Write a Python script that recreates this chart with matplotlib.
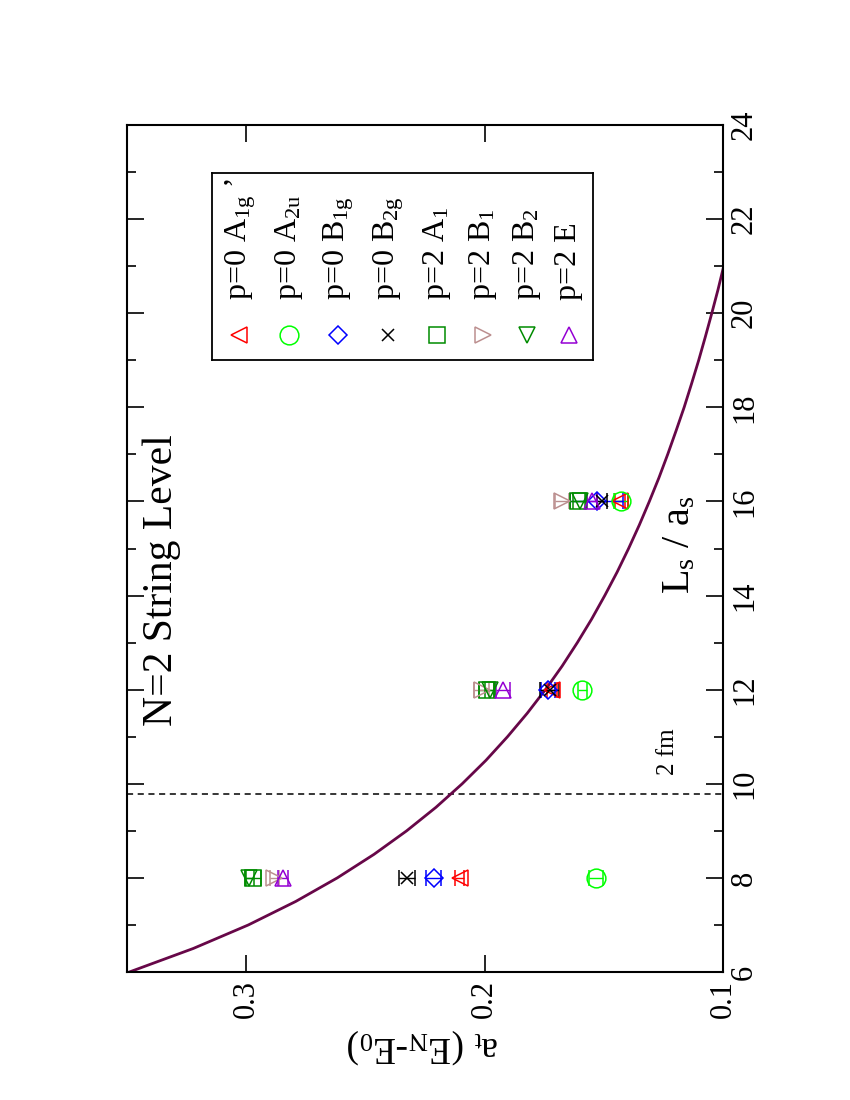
import matplotlib
matplotlib.use("Agg")
import matplotlib.pyplot as plt

plt.rcParams["font.family"] = ["Liberation Serif", "DejaVu Serif"]
plt.rcParams["mathtext.fontset"] = "custom"
plt.rcParams["mathtext.rm"] = "Liberation Serif"
plt.rcParams["mathtext.default"] = "regular"

W, H = 850, 1100

# lattice sizes L_s / a_s
box_sizes = [8, 12, 16]

# a_t (E_N - E_0) per channel
E_p0_A1g = [0.2105, 0.1718, 0.1433]
E_p0_A2u = [0.1534, 0.1590, 0.1429]
E_p0_B1g = [0.2214, 0.1735, 0.1530]
E_p0_B2g = [0.2324, 0.1727, 0.1508]
E_p2_A1 = [0.2970, 0.1992, 0.1610]
E_p2_B1 = [0.2882, 0.2013, 0.1676]
E_p2_B2 = [0.2987, 0.1979, 0.1600]
E_p2_E = [0.2845, 0.1924, 0.1550]

err_p0_A1g = [0.002, 0.002, 0.002]
err_p0_A2u = [0.003, 0.002, 0.003]
err_p0_B1g = [0.0033, 0.003, 0.011]
err_p0_B2g = [0.0033, 0.004, 0.002]
err_p2_A1 = [0.003, 0.003, 0.003]
err_p2_B1 = [0.002, 0.003, 0.003]
err_p2_B2 = [0.002, 0.002, 0.003]
err_p2_E = [0.002, 0.003, 0.002]

labels = [
    "p=0 A$_{1g}$ \u2019",
    "p=0 A$_{2u}$",
    "p=0 B$_{1g}$",
    "p=0 B$_{2g}$",
    "p=2 A$_{1}$",
    "p=2 B$_{1}$",
    "p=2 B$_{2}$",
    "p=2 E",
]

# string level curve
curve_L = [6, 6.5, 7, 7.5, 8, 8.5, 9, 9.5, 10, 10.5, 11, 11.5, 12, 12.5, 13, 13.5,
           14, 14.5, 15, 15.5, 16, 16.5, 17, 17.5, 18, 18.5, 19, 19.5, 20, 20.5, 21]
curve_E = [0.3490, 0.3222, 0.2991, 0.2792, 0.2618, 0.2464, 0.2327, 0.2204, 0.2094,
           0.1994, 0.1904, 0.1821, 0.1745, 0.1675, 0.1611, 0.1551, 0.1496, 0.1444,
           0.1396, 0.1351, 0.1309, 0.1269, 0.1232, 0.1197, 0.1163, 0.1132, 0.1102,
           0.1074, 0.1047, 0.1021, 0.0997]

two_fm = 9.78

energies = [E_p0_A1g, E_p0_A2u, E_p0_B1g, E_p0_B2g, E_p2_A1, E_p2_B1, E_p2_B2, E_p2_E]
errors = [err_p0_A1g, err_p0_A2u, err_p0_B1g, err_p0_B2g, err_p2_A1, err_p2_B1, err_p2_B2, err_p2_E]
colors = ["#ff0000", "#00ff00", "#0000ff", "#000000", "#008b00", "#bc8f8f", "#008b00", "#9400d3"]
markers = ["<", "o", "D", "x", "s", ">", "v", "^"]
msizes = [12, 13.5, 9, 9, 11.5, 12, 12, 12]


def fx(x):
    return x / W


def fy(y):
    return 1 - y / H


fig = plt.figure(figsize=(W / 100, H / 100), dpi=100)
ax = fig.add_axes([fx(127), fy(972), (723 - 127) / W, (972 - 125) / H])

ax.plot(curve_E, curve_L, color="#670748", lw=2.0, zorder=2)
ax.axhline(two_fm, color="black", lw=1.1, ls=(0, (4, 3)), zorder=1)

for E, err, c, m, ms in zip(energies, errors, colors, markers, msizes):
    ax.errorbar(E, box_sizes, xerr=err, fmt=m, color=c, ms=ms, mfc="none", mec=c,
                mew=1.1, elinewidth=1.0, capsize=5.5, capthick=1.0, zorder=3)

ax.set_xlim(0.35, 0.1)
ax.set_ylim(6, 24)
ax.set_xticks([0.1, 0.2, 0.3])
ax.set_xticklabels(["0.1", "0.2", "0.3"], rotation=90)
ax.set_yticks(range(6, 25, 2))
ax.set_yticks(range(7, 24, 2), minor=True)
ax.set_yticklabels([str(v) for v in range(6, 25, 2)], rotation=90, va="center")
ax.tick_params(which="both", direction="in", top=True, bottom=True, left=True, right=True,
               labelleft=False, labelright=True, width=1.2)
ax.tick_params(which="major", length=12, labelsize=22)
ax.tick_params(which="minor", length=6.5)
ax.tick_params(axis="x", pad=6)
ax.tick_params(axis="y", pad=5)
for s in ax.spines.values():
    s.set_linewidth(1.5)

fig.text(fx(423), fy(1046), "a$_t$ (E$_N$-E$_0$)", rotation=180, ha="center", va="center",
         fontsize=27)
fig.text(fx(680), fy(545), "L$_s$ / a$_s$", rotation=90, ha="center", va="center", fontsize=29)
fig.text(fx(162), fy(580), "N=2 String Level", rotation=90, ha="center", va="center", fontsize=30)
fig.text(fx(668), fy(752), "2 fm", rotation=90, ha="center", va="center", fontsize=18)

# legend drawn rotated, in page pixels
leg = fig.add_axes([fx(212), fy(360), (593 - 212) / W, (360 - 173) / H])
leg.set_xlim(212, 593)
leg.set_ylim(360, 173)
leg.set_xticks([])
leg.set_yticks([])
for s in leg.spines.values():
    s.set_linewidth(1.3)
leg_x = [239, 289, 338, 388, 437, 483, 527, 569]
for lx, lab, c, m, ms in zip(leg_x, labels, colors, markers, msizes):
    leg.plot([lx], [335], marker=m, ms=ms, mfc="none", mec=c, mew=1.1, color=c, ls="none")
    leg.text(lx + 7, 300, lab, rotation=90, rotation_mode="anchor", ha="left",
             va="baseline", fontsize=23)

fig.savefig("out.png", dpi=100)
